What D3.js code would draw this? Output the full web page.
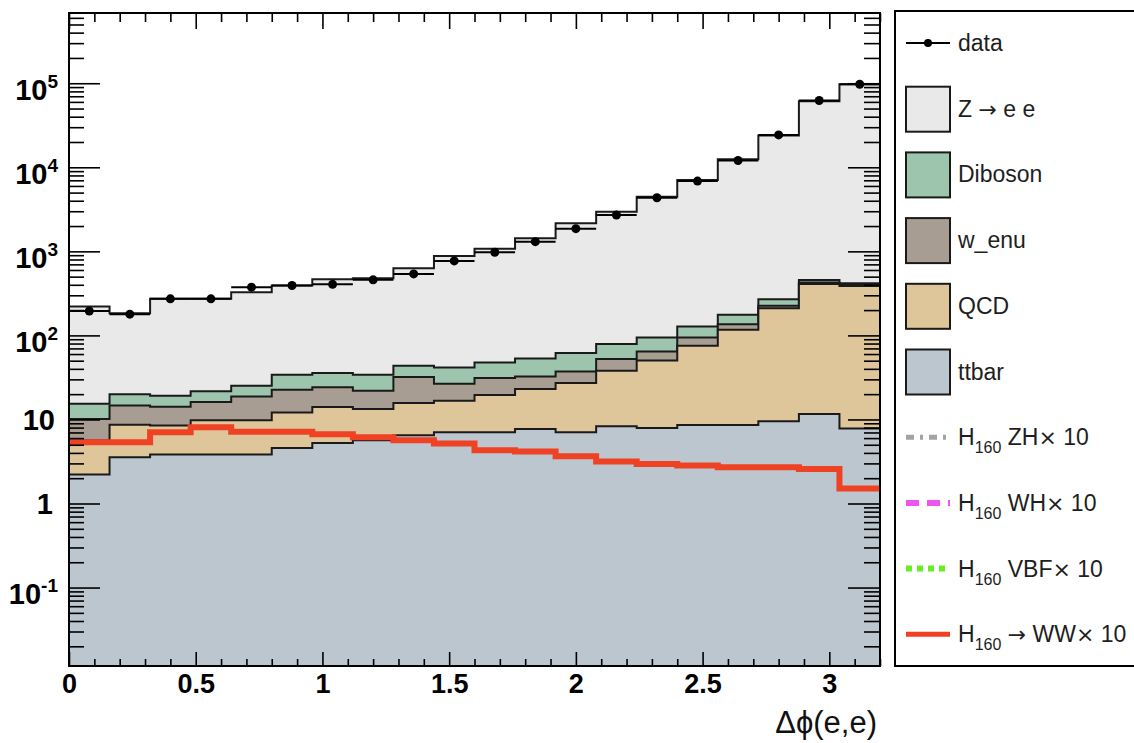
<!DOCTYPE html>
<html>
<head>
<meta charset="utf-8">
<script src="https://cdn.jsdelivr.net/npm/d3@7"></script>
<style>
  html, body { margin: 0; padding: 0; background: #fff; }
  svg { display: block; font-family: "Liberation Sans", Arial, Helvetica, sans-serif; }
</style>
</head>
<body>
<svg id="chart" width="1134" height="743"></svg>
<script>
// Δϕ(e,e) binning: 20 bins of width 0.16
const binEdges = [0, 0.16, 0.32, 0.48, 0.64, 0.80, 0.96, 1.12, 1.28, 1.44, 1.60,
                  1.76, 1.92, 2.08, 2.24, 2.40, 2.56, 2.72, 2.88, 3.04, 3.20];

// Background components (events per bin), stacked bottom to top
const ttbar   = [2.21, 3.55, 3.82, 3.82, 3.82, 4.58, 5.26, 5.65, 6.47, 7.03,
                 7.03, 7.71, 7.03, 8.28, 7.93, 8.6, 8.6, 9.5, 11.6, 7.78];
const qcd     = [3.39, 5.12, 4.68, 5.95, 5.95, 7.52, 8.84, 7.65, 9.23, 9.67,
                 12.47, 15.29, 20.07, 29.72, 42.37, 66.6, 108, 201.5, 398.4, 380.2];
const wenu    = [4.5, 6.03, 5.7, 6.33, 9.03, 10.5, 10.0, 8.7, 16.2, 9.9,
                 11.6, 9.5, 10.2, 14.3, 14.1, 19.2, 19.4, 15, 15, 14];
const diboson = [5.3, 5.2, 5.0, 5.5, 6.4, 11.4, 11.6, 12.0, 11.6, 15.0,
                 16.6, 20.7, 24.3, 26.5, 30.0, 33.2, 39.7, 44, 32, 16];
const zee     = [204.6, 164.1, 252.8, 250.4, 301.8, 358, 430.3, 445, 586.5, 840.4,
                 1029.3, 1376.8, 2095.4, 2887.2, 4372.6, 6919.4, 12324, 23630, 60643, 96882];

// Observed events
const observed = [195, 179, 272, 272, 375, 392, 405, 458, 539, 769,
                  975, 1303, 1862, 2705, 4345, 6856, 12060, 24300, 62300, 97300];

// Signal H(160) -> WW, scaled x10
const hww = [5.35, 5.35, 7.03, 8.06, 7.16, 7.16, 6.65, 6.13, 5.65, 5.16,
             4.30, 4.15, 3.65, 3.15, 2.96, 2.83, 2.70, 2.70, 2.58, 1.51];

const xMajorTicks = [0, 0.5, 1, 1.5, 2, 2.5, 3];
const yMajorTicks = [0.1, 1, 10, 100, 1000, 10000, 100000];

const colors = {
  zee: "#e9e9e9",
  diboson: "#9dc5ad",
  wenu: "#a89d93",
  qcd: "#dfc59a",
  ttbar: "#bcc6cf",
  hww: "#ef4123",
  zh: "#a3a3a3",
  wh: "#ee55ee",
  vbf: "#66ee22"
};

const svg = d3.select("#chart");
svg.append("rect").attr("width", 1134).attr("height", 743).attr("fill", "#fff");

const plot = { left: 69, right: 880, top: 13, bottom: 666 };

const x = d3.scaleLinear().domain([0, 3.2]).range([plot.left, plot.right]);
const y = d3.scaleLog().domain([0.01166, 6.85e5]).range([plot.bottom, plot.top]);

svg.append("clipPath").attr("id", "plotClip")
  .append("rect")
  .attr("x", plot.left).attr("y", plot.top)
  .attr("width", plot.right - plot.left).attr("height", plot.bottom - plot.top);

const g = svg.append("g").attr("clip-path", "url(#plotClip)");

// Stack the backgrounds
const keys = ["ttbar", "qcd", "wenu", "diboson", "zee"];
const src = { ttbar, qcd, wenu, diboson, zee };
const rows = ttbar.map((_, i) => {
  const r = {};
  keys.forEach(k => r[k] = src[k][i]);
  return r;
});
const stacked = d3.stack().keys(keys)(rows);

const edgePoints = vals => binEdges.map((e, i) => [e, vals[Math.min(i, vals.length - 1)]]);

const areaGen = d3.area()
  .x(d => x(d[0]))
  .y0(plot.bottom)
  .y1(d => y(d[1]))
  .curve(d3.curveStepAfter);

const lineGen = d3.line()
  .x(d => x(d[0]))
  .y(d => y(d[1]))
  .curve(d3.curveStepAfter);

// Cumulative histograms, largest first
stacked.slice().reverse().forEach(series => {
  const tops = series.map(d => d[1]);
  g.append("path")
    .attr("d", areaGen(edgePoints(tops)))
    .attr("fill", colors[series.key])
    .attr("stroke", "#1a1a1a")
    .attr("stroke-width", 2)
    .attr("stroke-linejoin", "miter");
});

// Signal H -> WW x10
g.append("path")
  .attr("d", lineGen(edgePoints(hww)))
  .attr("fill", "none")
  .attr("stroke", colors.hww)
  .attr("stroke-width", 6);

// Observed data: markers with bin-width bars
const dataG = g.append("g");
observed.forEach((v, i) => {
  const x0 = binEdges[i], x1 = binEdges[i + 1];
  dataG.append("line")
    .attr("x1", x(x0)).attr("x2", x(x1))
    .attr("y1", y(v)).attr("y2", y(v))
    .attr("stroke", "#000").attr("stroke-width", 2);
  dataG.append("circle")
    .attr("cx", x((x0 + x1) / 2)).attr("cy", y(v))
    .attr("r", 4.5).attr("fill", "#000");
});

// Axes
const xMinor = d3.range(0, 3.21, 0.1).map(v => +v.toFixed(2)).filter(v => !xMajorTicks.some(m => Math.abs(m - v) < 1e-6));
const yMinor = [];
[-2, -1, 0, 1, 2, 3, 4, 5].forEach(p => {
  for (let m = 2; m <= 9; m++) {
    const v = m * Math.pow(10, p);
    if (v >= y.domain()[0] && v <= y.domain()[1]) yMinor.push(v);
  }
});

const axisStyle = sel => {
  sel.select(".domain").remove();
  sel.selectAll(".tick line").attr("stroke", "#000").attr("stroke-width", 1.6);
};

// bottom
const bottomAxis = svg.append("g").attr("transform", `translate(0,${plot.bottom})`)
  .call(d3.axisBottom(x).tickValues(xMajorTicks).tickSize(-14).tickPadding(8)
    .tickFormat(d => d3.format("")(d)));
axisStyle(bottomAxis);
bottomAxis.selectAll(".tick text")
  .attr("font-size", 27).attr("font-weight", "bold").attr("fill", "#000")
  .attr("font-family", '"Liberation Sans", Arial, sans-serif');
svg.append("g").attr("transform", `translate(0,${plot.bottom})`)
  .call(d3.axisBottom(x).tickValues(xMinor).tickSize(-7).tickFormat(""))
  .call(axisStyle);

// top
svg.append("g").attr("transform", `translate(0,${plot.top})`)
  .call(d3.axisTop(x).tickValues(xMajorTicks).tickSize(-16).tickFormat(""))
  .call(axisStyle);
svg.append("g").attr("transform", `translate(0,${plot.top})`)
  .call(d3.axisTop(x).tickValues(xMinor).tickSize(-9).tickFormat(""))
  .call(axisStyle);

// left
const leftAxis = svg.append("g").attr("transform", `translate(${plot.left},0)`)
  .call(d3.axisLeft(y).tickValues(yMajorTicks).tickSize(-31).tickPadding(12).tickFormat(d => d));
axisStyle(leftAxis);
leftAxis.selectAll(".tick text").each(function (d) {
  const t = d3.select(this);
  t.text(null)
    .attr("font-size", 29).attr("font-weight", "bold").attr("fill", "#000")
    .attr("font-family", '"Liberation Sans", Arial, sans-serif');
  const p = Math.round(Math.log10(d));
  if (p === 0 || p === 1) {
    t.attr("dy", "0.33em").attr("x", p === 0 ? -16 : -14);
    t.append("tspan").text(p === 0 ? "1" : "10");
  } else {
    t.attr("dy", "0.55em").attr("x", -11);
    t.append("tspan").text("10");
    t.append("tspan").attr("font-size", 19).attr("dy", "-0.63em").text(String(p));
  }
});
svg.append("g").attr("transform", `translate(${plot.left},0)`)
  .call(d3.axisLeft(y).tickValues(yMinor).tickSize(-15).tickFormat(""))
  .call(axisStyle);

// right
svg.append("g").attr("transform", `translate(${plot.right},0)`)
  .call(d3.axisRight(y).tickValues(yMajorTicks).tickSize(-32).tickFormat(""))
  .call(axisStyle);
svg.append("g").attr("transform", `translate(${plot.right},0)`)
  .call(d3.axisRight(y).tickValues(yMinor).tickSize(-16).tickFormat(""))
  .call(axisStyle);

// frame
svg.append("rect")
  .attr("x", plot.left).attr("y", plot.top)
  .attr("width", plot.right - plot.left).attr("height", plot.bottom - plot.top)
  .attr("fill", "none").attr("stroke", "#000").attr("stroke-width", 2);

// x-axis title
svg.append("text")
  .attr("x", 877).attr("y", 733)
  .attr("text-anchor", "end")
  .attr("font-size", 31)
  .attr("fill", "#111")
  .text("Δϕ(e,e)");

// Legend
const legend = svg.append("g");
legend.append("rect")
  .attr("x", 895).attr("y", 11).attr("width", 260).attr("height", 655)
  .attr("fill", "#fff").attr("stroke", "#000").attr("stroke-width", 2);

const legendItems = [
  { type: "data", label: ["data"] },
  { type: "box", color: colors.zee, label: ["Z ", "→", " e e"] },
  { type: "box", color: colors.diboson, label: ["Diboson"] },
  { type: "box", color: colors.wenu, label: ["w_enu"] },
  { type: "box", color: colors.qcd, label: ["QCD"] },
  { type: "box", color: colors.ttbar, label: ["ttbar"] },
  { type: "line", color: colors.zh, dash: "8,6,3,6", width: 5, label: ["H", "160", " ZH", "×", " 10"] },
  { type: "line", color: colors.wh, dash: "13,8", width: 6, label: ["H", "160", " WH", "×", " 10"] },
  { type: "line", color: colors.vbf, dash: "6,5", width: 6, label: ["H", "160", " VBF", "×", " 10"] },
  { type: "line", color: colors.hww, dash: null, width: 5, label: ["H", "160", " ", "→", " WW", "×", " 10"] }
];

const legX0 = 906, legX1 = 950, legTextX = 958;
const symbolFont = '"DejaVu Sans", sans-serif';
legendItems.forEach((it, i) => {
  const cy = 43 + i * 65.7;
  if (it.type === "data") {
    legend.append("line").attr("x1", legX0).attr("x2", legX1).attr("y1", cy).attr("y2", cy)
      .attr("stroke", "#000").attr("stroke-width", 2);
    legend.append("circle").attr("cx", (legX0 + legX1) / 2).attr("cy", cy).attr("r", 4)
      .attr("fill", "#000");
  } else if (it.type === "box") {
    legend.append("rect").attr("x", legX0).attr("y", cy - 22).attr("width", legX1 - legX0).attr("height", 45)
      .attr("fill", it.color).attr("stroke", "#1a1a1a").attr("stroke-width", 2);
  } else {
    legend.append("line").attr("x1", legX0).attr("x2", legX1).attr("y1", cy).attr("y2", cy)
      .attr("stroke", it.color).attr("stroke-width", it.width)
      .attr("stroke-dasharray", it.dash);
  }
  const t = legend.append("text")
    .attr("x", legTextX).attr("y", cy + 8)
    .attr("font-size", 23).attr("fill", "#1e1e1e");
  const parts = it.label;
  let k = 0;
  if (parts[0] === "H" && parts[1] === "160") {
    t.append("tspan").text("H");
    t.append("tspan").attr("font-size", 16).attr("dy", 8).text("160");
    k = 2;
    let first = true;
    for (; k < parts.length; k++) {
      const s = t.append("tspan").text(parts[k]);
      if (first) { s.attr("dy", -8); first = false; }
      if (parts[k] === "→" || parts[k] === "×") s.attr("font-family", symbolFont).attr("font-size", 22);
    }
  } else {
    parts.forEach(p => {
      const s = t.append("tspan").text(p);
      if (p === "→") s.attr("font-family", symbolFont).attr("font-size", 22);
    });
  }
});
</script>
</body>
</html>
